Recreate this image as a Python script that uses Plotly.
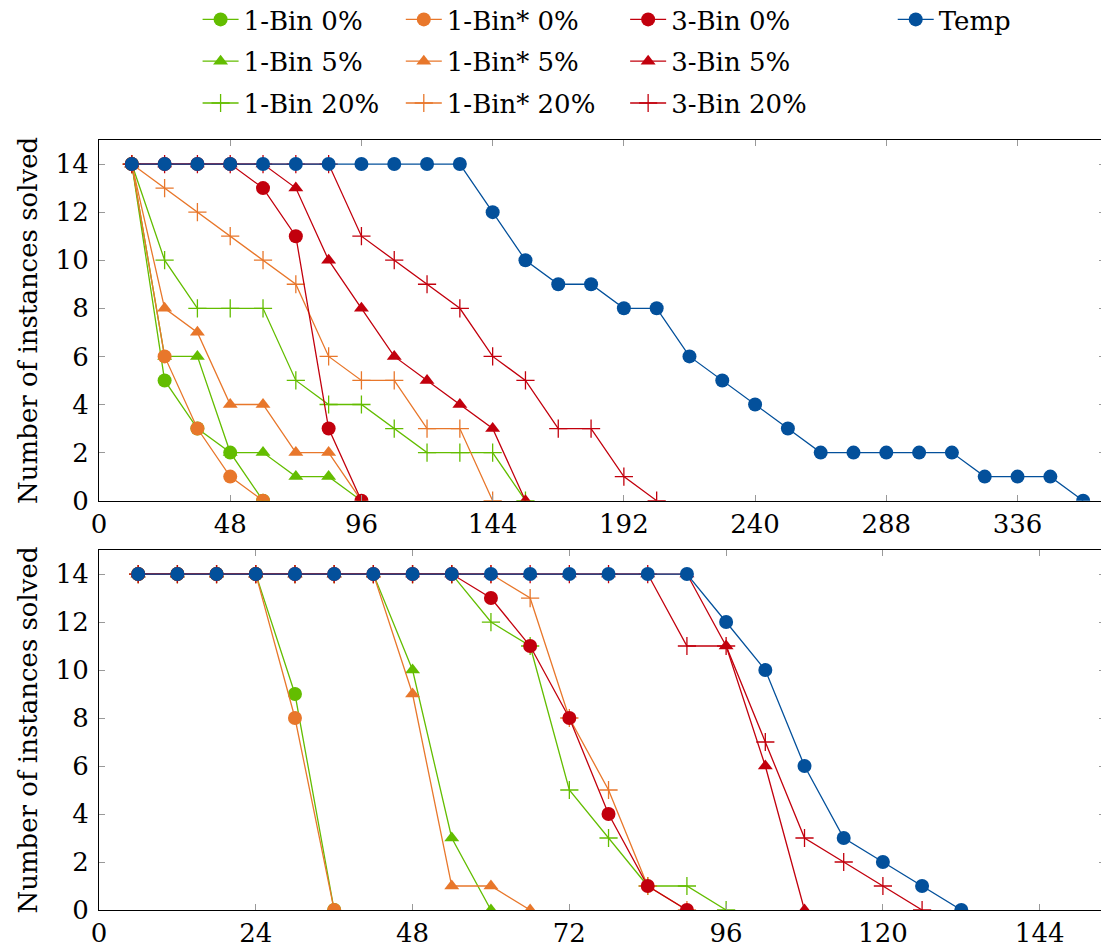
import plotly.graph_objects as go

# ---------------- data: top panel (x step 12) ----------------
top_x = [12, 24, 36, 48, 60, 72, 84, 96, 108, 120, 132, 144, 156, 168, 180,
         192, 204, 216, 228, 240, 252, 264, 276, 288, 300, 312, 324, 336, 348, 360]
top_1bin_0 = [14, 5, 3, 2, 0]
top_1binS_0 = [14, 6, 3, 1, 0]
top_3bin_0 = [14, 14, 14, 14, 13, 11, 3, 0]
top_1bin_5 = [14, 6, 6, 2, 2, 1, 1, 0]
top_1binS_5 = [14, 8, 7, 4, 4, 2, 2, 0]
top_3bin_5 = [14, 14, 14, 14, 14, 13, 10, 8, 6, 5, 4, 3, 0]
top_1bin_20 = [14, 10, 8, 8, 8, 5, 4, 4, 3, 2, 2, 2, 0]
top_1binS_20 = [14, 13, 12, 11, 10, 9, 6, 5, 5, 3, 3, 0]
top_3bin_20 = [14, 14, 14, 14, 14, 14, 14, 11, 10, 9, 8, 6, 5, 3, 3, 1, 0]
top_temp = [14, 14, 14, 14, 14, 14, 14, 14, 14, 14, 14, 12, 10, 9, 9,
            8, 8, 6, 5, 4, 3, 2, 2, 2, 2, 2, 1, 1, 1, 0]

# ---------------- data: bottom panel (x step 6) ----------------
bot_x = [6, 12, 18, 24, 30, 36, 42, 48, 54, 60, 66, 72, 78, 84, 90,
         96, 102, 108, 114, 120, 126, 132]
bot_1bin_0 = [14, 14, 14, 14, 9, 0]
bot_1binS_0 = [14, 14, 14, 14, 8, 0]
bot_3bin_0 = [14, 14, 14, 14, 14, 14, 14, 14, 14, 13, 11, 8, 4, 1, 0]
bot_1bin_5 = [14, 14, 14, 14, 14, 14, 14, 10, 3, 0]
bot_1binS_5 = [14, 14, 14, 14, 14, 14, 14, 9, 1, 1, 0]
bot_3bin_5 = [14, 14, 14, 14, 14, 14, 14, 14, 14, 14, 14, 14, 14, 14, 14, 11, 6, 0]
bot_1bin_20 = [14, 14, 14, 14, 14, 14, 14, 14, 14, 12, 11, 5, 3, 1, 1, 0]
bot_1binS_20 = [14, 14, 14, 14, 14, 14, 14, 14, 14, 14, 13, 8, 5, 1, 0]
bot_3bin_20 = [14, 14, 14, 14, 14, 14, 14, 14, 14, 14, 14, 14, 14, 14, 11, 11, 7, 3, 2, 1, 0]
bot_temp = [14, 14, 14, 14, 14, 14, 14, 14, 14, 14, 14, 14, 14, 14, 14,
            12, 10, 6, 3, 2, 1, 0]

GREEN = "#63bd00"
ORANGE = "#e8772b"
RED = "#c2000d"
BLUE = "#03509b"
FONT = "DejaVu Serif"

# name, color, symbol, top data, bottom data, legend id, rank
series = [
    ("1-Bin 0%", GREEN, "circle", top_1bin_0, bot_1bin_0, "legend", 1),
    ("1-Bin 5%", GREEN, "triangle-up", top_1bin_5, bot_1bin_5, "legend", 2),
    ("1-Bin 20%", GREEN, "cross-thin", top_1bin_20, bot_1bin_20, "legend", 3),
    ("1-Bin* 0%", ORANGE, "circle", top_1binS_0, bot_1binS_0, "legend2", 1),
    ("1-Bin* 5%", ORANGE, "triangle-up", top_1binS_5, bot_1binS_5, "legend2", 2),
    ("1-Bin* 20%", ORANGE, "cross-thin", top_1binS_20, bot_1binS_20, "legend2", 3),
    ("3-Bin 0%", RED, "circle", top_3bin_0, bot_3bin_0, "legend3", 1),
    ("3-Bin 5%", RED, "triangle-up", top_3bin_5, bot_3bin_5, "legend3", 2),
    ("3-Bin 20%", RED, "cross-thin", top_3bin_20, bot_3bin_20, "legend3", 3),
    ("Temp", BLUE, "circle", top_temp, bot_temp, "legend4", 1),
]

def marker_for(color, symbol):
    if symbol == "circle":
        return dict(symbol="circle", size=14, color=color, line=dict(width=0))
    if symbol == "triangle-up":
        return dict(symbol="triangle-up", size=13, color=color, line=dict(width=0))
    return dict(symbol="cross-thin", size=13, color=color, line=dict(width=1.3, color=color))

fig = go.Figure()
for name, color, sym, td, bd, leg, rank in series:
    mk = marker_for(color, sym)
    fig.add_trace(go.Scatter(
        x=top_x[:len(td)], y=td, name=name, mode="lines+markers",
        line=dict(color=color, width=1.3), marker=mk,
        xaxis="x", yaxis="y", legend=leg, legendgroup=name, legendrank=rank,
        showlegend=True))
    fig.add_trace(go.Scatter(
        x=bot_x[:len(bd)], y=bd, name=name, mode="lines+markers",
        line=dict(color=color, width=1.3), marker=mk,
        xaxis="x2", yaxis="y2", legendgroup=name, legend=leg,
        showlegend=False))

axis_common = dict(
    showline=True, linecolor="black", linewidth=1.2, mirror="ticks",
    ticks="inside", ticklen=6, tickcolor="#999999", tickwidth=1,
    showgrid=False, zeroline=False, automargin=False,
    tickfont=dict(family=FONT, size=26, color="black"),
)

# page body has an 8px margin: compensate so the plot lands where the reference has it
top_dom = [0.5316, 1.0]
bot_dom = [0.0, 0.4675]

fig.update_layout(
    width=1109, height=945,
    margin=dict(l=91, r=12, t=132, b=43, autoexpand=False),
    plot_bgcolor="white", paper_bgcolor="white",
    font=dict(family=FONT, size=26, color="black"),
    xaxis=dict(axis_common, range=[0, 368], domain=[0, 1],
               tickvals=[0, 48, 96, 144, 192, 240, 288, 336], anchor="y",
               ticklabelstandoff=0),
    yaxis=dict(axis_common, range=[0, 15], domain=top_dom,
               tickvals=[0, 2, 4, 6, 8, 10, 12, 14], anchor="x",
               ticklabelstandoff=4,
               title=dict(text="Number of instances solved",
                          font=dict(family=FONT, size=26), standoff=10)),
    xaxis2=dict(axis_common, range=[0, 154], domain=[0, 1],
                tickvals=[0, 24, 48, 72, 96, 120, 144], anchor="y2",
                ticklabelstandoff=0),
    yaxis2=dict(axis_common, range=[0, 15], domain=bot_dom,
                tickvals=[0, 2, 4, 6, 8, 10, 12, 14], anchor="x2",
                ticklabelstandoff=4,
                title=dict(text="Number of instances solved",
                           font=dict(family=FONT, size=26), standoff=10)),
    showlegend=True,
)

leg_common = dict(orientation="v", yanchor="top", y=1.187, xanchor="left",
                  bgcolor="rgba(0,0,0,0)", borderwidth=0, tracegroupgap=5,
                  font=dict(family=FONT, size=26, color="black"),
                  itemwidth=36, traceorder="grouped")
fig.update_layout(
    legend=dict(leg_common, x=0.098),
    legend2=dict(leg_common, x=0.300),
    legend3=dict(leg_common, x=0.523),
    legend4=dict(leg_common, x=0.789),
)

fig.write_html("out.html")
